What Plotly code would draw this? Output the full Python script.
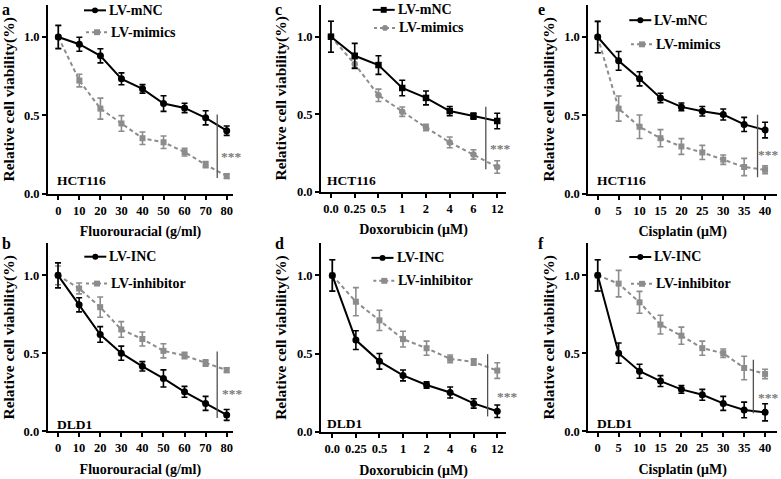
import plotly.graph_objects as go

W, H = 781, 479

# ---------------- data ----------------
fu_doses = ["0", "10", "20", "30", "40", "50", "60", "70", "80"]
dox_doses = ["0.0", "0.25", "0.5", "1", "2", "4", "6", "12"]
cis_doses = ["0", "5", "10", "15", "20", "25", "30", "35", "40"]

# a: HCT116, Fluorouracial
a_mnc = [1.0, 0.954, 0.88, 0.733, 0.669, 0.575, 0.547, 0.484, 0.402]
a_mnc_err = [0.075, 0.045, 0.045, 0.038, 0.027, 0.05, 0.03, 0.045, 0.03]
a_mimics = [1.0, 0.722, 0.543, 0.448, 0.354, 0.328, 0.265, 0.185, 0.112]
a_mimics_err = [0.07, 0.04, 0.067, 0.05, 0.04, 0.04, 0.025, 0.02, 0.015]

# c: HCT116, Doxorubicin
c_mnc = [1.0, 0.877, 0.817, 0.669, 0.605, 0.52, 0.488, 0.456]
c_mnc_err = [0.1, 0.08, 0.06, 0.05, 0.045, 0.03, 0.02, 0.05]
c_mimics = [1.0, 0.824, 0.622, 0.516, 0.414, 0.318, 0.24, 0.159]
c_mimics_err = [0.1, 0.03, 0.04, 0.03, 0.02, 0.035, 0.03, 0.04]

# e: HCT116, Cisplatin
e_mnc = [1.0, 0.848, 0.733, 0.611, 0.554, 0.526, 0.505, 0.442, 0.406]
e_mnc_err = [0.1, 0.06, 0.045, 0.03, 0.025, 0.03, 0.035, 0.045, 0.05]
e_mimics = [1.0, 0.543, 0.427, 0.354, 0.301, 0.263, 0.217, 0.17, 0.152]
e_mimics_err = [0.1, 0.08, 0.075, 0.055, 0.05, 0.045, 0.03, 0.055, 0.025]

# b: DLD1, Fluorouracial
b_inc = [1.0, 0.811, 0.621, 0.501, 0.417, 0.339, 0.253, 0.179, 0.105]
b_inc_err = [0.08, 0.045, 0.05, 0.045, 0.03, 0.055, 0.035, 0.045, 0.035]
b_inhibitor = [1.0, 0.916, 0.796, 0.653, 0.592, 0.516, 0.486, 0.438, 0.392]
b_inhibitor_err = [0.06, 0.035, 0.065, 0.05, 0.045, 0.045, 0.02, 0.02, 0.015]

# d: DLD1, Doxorubicin
d_inc = [1.0, 0.587, 0.451, 0.361, 0.30, 0.252, 0.182, 0.132]
d_inc_err = [0.1, 0.06, 0.05, 0.035, 0.02, 0.035, 0.03, 0.04]
d_inhibitor = [1.0, 0.832, 0.713, 0.593, 0.535, 0.467, 0.447, 0.392]
d_inhibitor_err = [0.1, 0.09, 0.065, 0.05, 0.045, 0.025, 0.02, 0.05]

# f: DLD1, Cisplatin
f_inc = [1.0, 0.501, 0.385, 0.322, 0.269, 0.234, 0.179, 0.137, 0.122]
f_inc_err = [0.1, 0.065, 0.045, 0.035, 0.025, 0.035, 0.045, 0.05, 0.055]
f_inhibitor = [1.0, 0.947, 0.827, 0.684, 0.613, 0.533, 0.501, 0.406, 0.368]
f_inhibitor_err = [0.1, 0.085, 0.07, 0.06, 0.055, 0.045, 0.027, 0.075, 0.03]

y_tickvals = [0.0, 0.5, 1.0]
y_ticktext = ["0.0", "0.5", "1.0"]

BLACK = "#000000"
GRAY = "#8c8c8c"
SERIF = "Liberation Serif"


def fx(p):
    return p / W


def fy(p):
    return 1 - p / H


# star: (x, y, anchor, ref) ; ref "data" -> category index / value, "paper" -> pixels
# letter: (x px, y px, yanchor)
panels = [
    dict(key="a", cell="HCT116", drug="Fluorouracial (g/ml)", cats=fu_doses,
         black=("LV-mNC", a_mnc, a_mnc_err, "circle"),
         gray=("LV-mimics", a_mimics, a_mimics_err, "square"),
         dom=(48, 233, 5, 196.5), xr=(-0.49, 8.3),
         sig=(7.55, 0.10, 0.505), star=(7.64, 0.235, "left", "data"),
         leg=((108, 10.5), (110, 32.7)), letter=(1, 0, "top"), celltxt=(55, 183.5)),
    dict(key="c", cell="HCT116", drug="Doxorubicin (\u03bcM)", cats=dox_doses,
         black=("LV-mNC", c_mnc, c_mnc_err, "square"),
         gray=("LV-mimics", c_mimics, c_mimics_err, "circle"),
         dom=(321, 506, 5, 194.5), xr=(-0.42, 7.37),
         sig=(6.52, 0.144, 0.548), star=(6.62, 0.28, "left", "data"),
         leg=((396.7, 10), (398, 28.3)), letter=(274, 0, "top"), celltxt=(325, 183.5)),
    dict(key="e", cell="HCT116", drug="Cisplatin (\u03bcM)", cats=cis_doses,
         black=("LV-mNC", e_mnc, e_mnc_err, "circle"),
         gray=("LV-mimics", e_mimics, e_mimics_err, "square"),
         dom=(588.3, 777, 5, 196.5), xr=(-0.45, 8.57),
         sig=(7.64, 0.104, 0.504), star=(780.5, 157, "right", "paper"),
         leg=((653.3, 20.5), (655, 45)), letter=(537, 0, "top"), celltxt=(595, 183.5)),
    dict(key="b", cell="DLD1", drug="Fluorouracial (g/ml)", cats=fu_doses,
         black=("LV-INC", b_inc, b_inc_err, "circle"),
         gray=("LV-inhibitor", b_inhibitor, b_inhibitor_err, "square"),
         dom=(47.7, 233, 247, 437.7), xr=(-0.49, 8.3),
         sig=(7.55, 0.086, 0.512), star=(7.66, 0.244, "left", "data"),
         leg=((108.3, 260.5), (110, 287.8)), letter=(1, 247, "middle"), celltxt=(55, 430.5)),
    dict(key="d", cell="DLD1", drug="Doxorubicin (\u03bcM)", cats=dox_doses,
         black=("LV-INC", d_inc, d_inc_err, "circle"),
         gray=("LV-inhibitor", d_inhibitor, d_inhibitor_err, "square"),
         dom=(321, 506, 247, 438.3), xr=(-0.48, 7.37),
         sig=(6.59, 0.099, 0.497), star=(6.9, 0.226, "left", "data"),
         leg=((395.5, 261.7), (397.3, 285)), letter=(274, 247, "middle"), celltxt=(325, 430)),
    dict(key="f", cell="DLD1", drug="Cisplatin (\u03bcM)", cats=cis_doses,
         black=("LV-INC", f_inc, f_inc_err, "circle"),
         gray=("LV-inhibitor", f_inhibitor, f_inhibitor_err, "square"),
         dom=(588.3, 777, 247, 437.7), xr=(-0.45, 8.57),
         sig=(7.44, 0.116, 0.459), star=(780.5, 403, "right", "paper"),
         leg=((653.3, 260.8), (655, 288)), letter=(537, 247, "middle"), celltxt=(595, 430)),
]

fig = go.Figure()
layout = dict(
    width=W, height=H, margin=dict(l=0, r=0, t=0, b=0),
    paper_bgcolor="white", plot_bgcolor="white", showlegend=False,
)
annotations = []
shapes = []

for i, p in enumerate(panels):
    n = "" if i == 0 else str(i + 1)
    xa, ya = "x" + n, "y" + n
    x0, x1, yt, yb = p["dom"]

    series = [
        (p["gray"], GRAY, "4px,3px", 6.5),
        (p["black"], BLACK, "solid", 7),
    ]
    # gray series first (drawn underneath), black on top
    for (name, vals, errs, sym), color, dash, msize in series:
        fig.add_trace(go.Scatter(
            x=p["cats"], y=vals, name=name, mode="lines+markers",
            xaxis=xa, yaxis=ya,
            line=dict(color=color, width=2, dash=dash),
            marker=dict(symbol=sym, size=msize if sym == "circle" else msize - 0.5, color=color),
            error_y=dict(type="data", array=errs, visible=True, color=color,
                         thickness=1.6, width=3),
            cliponaxis=False,
        ))

    axis_common = dict(
        showline=True, linecolor="black", linewidth=2, ticks="outside",
        ticklen=4, tickwidth=2, tickcolor="black", showgrid=False, zeroline=False,
        tickfont=dict(family=SERIF, size=12.5, color="black", weight="bold"),
    )
    layout["xaxis" + n] = dict(
        axis_common, domain=[fx(x0), fx(x1)], anchor=ya, type="category",
        range=list(p["xr"]),
        title=dict(text=p["drug"], standoff=10,
                   font=dict(family=SERIF, size=14, color="black", weight="bold")),
    )
    layout["yaxis" + n] = dict(
        axis_common, domain=[fy(yb), fy(yt)], anchor=xa, range=[0, 1.205],
        tickvals=y_tickvals, ticktext=y_ticktext,
        title=dict(text="Relative cell viability(%)", standoff=6,
                   font=dict(family=SERIF, size=15.5, color="black", weight="bold")),
    )

    # legend (black entry first, then gray), drawn as key samples + text
    for (tx, ty), ((name, _v, _e, sym), color, dash, _m) in zip(p["leg"], series[::-1]):
        shapes.append(dict(type="line", xref="paper", yref="paper",
                           x0=fx(tx - 24), x1=fx(tx - 2), y0=fy(ty), y1=fy(ty),
                           line=dict(color=color, width=2,
                                     dash="solid" if dash == "solid" else "3px,3px")))
        mx, r = tx - 13, 3
        shapes.append(dict(type="circle" if sym == "circle" else "rect",
                           xref="paper", yref="paper",
                           x0=fx(mx - r), x1=fx(mx + r), y0=fy(ty + r), y1=fy(ty - r),
                           fillcolor=color, line=dict(width=0)))
        annotations.append(dict(text=name, xref="paper", yref="paper",
                                x=fx(tx - 1), y=fy(ty), xanchor="left", yanchor="middle",
                                showarrow=False,
                                font=dict(family=SERIF, size=14, color="black", weight="bold")))

    # significance bar and asterisks
    sx, sy0, sy1 = p["sig"]
    shapes.append(dict(type="line", xref=xa, yref=ya, x0=sx, x1=sx, y0=sy0, y1=sy1,
                       line=dict(color="#505050", width=1.3)))
    stx, sty, sanc, sref = p["star"]
    star_font = dict(family=SERIF, size=13.5, color="#7a7a7a", weight="bold")
    if sref == "data":
        annotations.append(dict(text="***", xref=xa, yref=ya, x=stx, y=sty,
                                xanchor=sanc, yanchor="middle", showarrow=False,
                                font=star_font))
    else:
        annotations.append(dict(text="***", xref="paper", yref="paper", x=fx(stx), y=fy(sty),
                                xanchor=sanc, yanchor="middle", showarrow=False,
                                font=star_font))
    # cell line label
    cx, cy = p["celltxt"]
    annotations.append(dict(text=p["cell"], xref="paper", yref="paper",
                            x=fx(cx), y=fy(cy), xanchor="left", yanchor="middle",
                            showarrow=False,
                            font=dict(family=SERIF, size=13.5, color="black", weight="bold")))
    # panel letter
    lx2, ly2, lanc = p["letter"]
    annotations.append(dict(text=p["key"], xref="paper", yref="paper",
                            x=fx(lx2), y=fy(ly2), xanchor="left", yanchor=lanc,
                            showarrow=False, borderpad=0,
                            font=dict(family=SERIF, size=16, color="black", weight="bold")))

layout["annotations"] = annotations
layout["shapes"] = shapes
fig.update_layout(**layout)
fig.write_html("out.html", config={"displayModeBar": False},
               post_script="document.body.style.margin='0px';document.body.style.padding='0px';")
